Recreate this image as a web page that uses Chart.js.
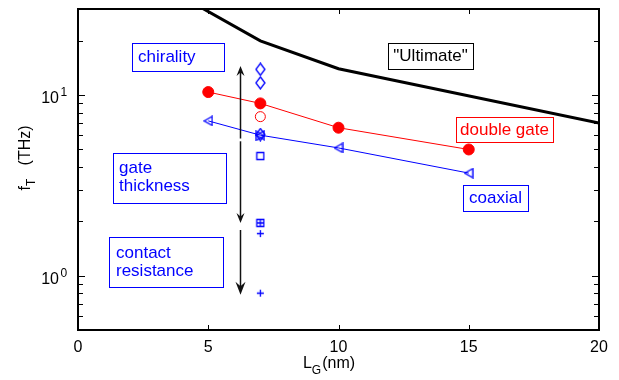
<!DOCTYPE html>
<html>
<head>
<meta charset="utf-8">
<script src="https://cdn.jsdelivr.net/npm/chart.js@4"></script>
<style>
  html, body { margin: 0; padding: 0; background: #fff; }
  #wrap { width: 619px; height: 380px; position: relative; }
</style>
</head>
<body>
<div id="wrap"><canvas id="fT"></canvas></div>
<script>
// axes
const xTicks = [0, 5, 10, 15, 20];
const xTickLabels = ['0', '5', '10', '15', '20'];
const yMajor = [1, 10];
const yMajorBase = ['10', '10'];
const yMajorExp = ['0', '1'];
const yMinor = [0.5, 0.6, 0.7, 0.8, 0.9, 2, 3, 4, 5, 6, 7, 8, 9, 20, 30];

// "Ultimate" limit
const ultX = [4, 7, 10, 20];
const ultY = [35, 20, 14, 7];

// double gate
const dgX = [5, 7, 10, 15];
const dgY = [10.4, 9.0, 6.6, 5.0];

// coaxial
const coX = [5, 7, 10, 15];
const coY = [7.2, 6.0, 5.1, 3.7];

// variations at L = 7 nm
const varX = 7;
const diamondY = [13.9, 11.7, 6.05];
const openCircleY = [7.6];
const rightTriY = [5.95];
const squareY = [4.6];
const boxPlusY = [1.96];
const plusY = [1.71, 0.80];

// arrows (x, from, to)
const arrowX = 6.22;
const arrowFrom = [5.75, 5.55, 1.79];
const arrowTo = [14.5, 1.96, 0.785];

const FONT = '"Liberation Sans", Arial, Helvetica, sans-serif';
const BLUE = '#0000ff';
const RED = '#ff0000';

// little canvases used as point styles
function marker(kind, w, h, color) {
  const c = document.createElement('canvas');
  c.width = w + 2; c.height = h + 2;
  const g = c.getContext('2d');
  g.strokeStyle = color; g.lineWidth = 1.3;
  g.translate(1, 1);
  g.beginPath();
  if (kind === 'ltri') { g.moveTo(0, h / 2); g.lineTo(w, 0); g.lineTo(w, h); g.closePath(); }
  if (kind === 'rtri') { g.moveTo(w, h / 2); g.lineTo(0, 0); g.lineTo(0, h); g.closePath(); }
  if (kind === 'diamond') { g.moveTo(w / 2, 0); g.lineTo(w, h / 2); g.lineTo(w / 2, h); g.lineTo(0, h / 2); g.closePath(); }
  if (kind === 'square') { g.rect(0.5, 0.5, w - 1, h - 1); }
  if (kind === 'plus') { g.moveTo(w / 2, 0); g.lineTo(w / 2, h); g.moveTo(0, h / 2); g.lineTo(w, h / 2); }
  if (kind === 'boxplus') { g.rect(0.5, 0.5, w - 1, h - 1); g.moveTo(w / 2, 0); g.lineTo(w / 2, h); g.moveTo(0, h / 2); g.lineTo(w, h / 2); }
  g.stroke();
  return c;
}

const at7 = ys => ys.map(y => ({ x: varX, y: y }));
const pts = (xs, ys) => xs.map((x, i) => ({ x: x, y: ys[i] }));

function scatterSet(data, style, color) {
  return { data: data, showLine: false, pointStyle: style, pointRadius: 5,
           borderColor: color, backgroundColor: 'rgba(0,0,0,0)', borderWidth: 1 };
}

// text boxes
const notes = [
  { lines: ['chirality'], color: BLUE, box: [132, 43, 92, 28], x: 138, y: [57], align: 'left' },
  { lines: ['gate', 'thickness'], color: BLUE, box: [113, 153, 113, 50], x: 119, y: [168, 186], align: 'left' },
  { lines: ['contact', 'resistance'], color: BLUE, box: [109, 237, 114, 50], x: 116, y: [253, 271], align: 'left' },
  { lines: ['"Ultimate"'], color: '#000', box: [388, 43, 85, 26], x: 430.5, y: [56.5], align: 'center' },
  { lines: ['double gate'], color: RED, box: [456, 117, 97, 25], x: 504.5, y: [130], align: 'center' },
  { lines: ['coaxial'], color: BLUE, box: [463, 185, 65, 26], x: 495.5, y: [198.5], align: 'center' }
];

function arrowHead(g, x, y, dir, len, half) {
  g.beginPath();
  g.moveTo(x, y);
  g.lineTo(x - half, y - dir * len);
  g.lineTo(x, y - dir * len * 0.65);
  g.lineTo(x + half, y - dir * len);
  g.closePath();
  g.fill();
}

const decor = {
  id: 'decor',
  afterDatasetsDraw(chart) {
    const g = chart.ctx;
    const a = chart.chartArea;
    const sx = chart.scales.x, sy = chart.scales.y;
    g.save();

    // arrows
    g.strokeStyle = '#111'; g.fillStyle = '#111'; g.lineWidth = 1.5;
    const ax = Math.round(sx.getPixelForValue(arrowX)) + 0.5;
    arrowFrom.forEach((f, i) => {
      const y0 = sy.getPixelForValue(f), y1 = sy.getPixelForValue(arrowTo[i]);
      const dir = y1 > y0 ? 1 : -1;
      const len = i === 2 ? 13 : 10, half = i === 2 ? 5 : 4;
      g.beginPath(); g.moveTo(ax, y0); g.lineTo(ax, y1 - dir * len * 0.6); g.stroke();
      arrowHead(g, ax, y1, dir, len, half);
    });

    // frame
    g.strokeStyle = '#000'; g.lineWidth = 2;
    g.strokeRect(a.left, a.top, a.right - a.left, a.bottom - a.top);

    // inward ticks
    g.lineWidth = 1;
    g.beginPath();
    xTicks.forEach(v => {
      const px = Math.round(sx.getPixelForValue(v)) + 0.5;
      g.moveTo(px, a.bottom); g.lineTo(px, a.bottom - 5);
      g.moveTo(px, a.top); g.lineTo(px, a.top + 5);
    });
    yMinor.concat(yMajor).forEach(v => {
      const py = Math.round(sy.getPixelForValue(v)) + 0.5;
      const len = yMajor.includes(v) ? 7 : 5;
      g.moveTo(a.left, py); g.lineTo(a.left + len, py);
      g.moveTo(a.right, py); g.lineTo(a.right - len, py);
    });
    g.stroke();

    // tick labels
    g.fillStyle = '#000';
    g.font = '16px ' + FONT;
    g.textAlign = 'center'; g.textBaseline = 'alphabetic';
    xTicks.forEach((v, i) => g.fillText(xTickLabels[i], sx.getPixelForValue(v), 352));
    yMajor.forEach((v, i) => {
      const py = sy.getPixelForValue(v);
      g.font = '16px ' + FONT; g.textAlign = 'right';
      g.fillText(yMajorBase[i], 59, py + 8);
      g.font = '12px ' + FONT; g.textAlign = 'left';
      g.fillText(yMajorExp[i], 60.5, py + 1);
    });

    // axis titles
    g.textAlign = 'left';
    const f16 = '16px ' + FONT, f12 = '12px ' + FONT;
    g.font = f16; const wL = g.measureText('L').width, wNm = g.measureText('(nm)').width;
    g.font = f12; const wG = g.measureText('G').width;
    let tx = 329 - (wL + wG + 1 + wNm) / 2;
    g.font = f16; g.fillText('L', tx, 368); tx += wL;
    g.font = f12; g.fillText('G', tx, 374); tx += wG + 1;
    g.font = f16; g.fillText('(nm)', tx, 368);

    g.save();
    g.translate(30, 158);
    g.rotate(-Math.PI / 2);
    g.font = f16; const wf = g.measureText('f').width, wT2 = g.measureText('   (THz)').width;
    g.font = f12; const wT = g.measureText('T').width;
    let ty = -(wf + wT + wT2) / 2;
    g.font = f16; g.fillText('f', ty, 0); ty += wf;
    g.font = f12; g.fillText('T', ty, 5); ty += wT;
    g.font = f16; g.fillText('   (THz)', ty, 0);
    g.restore();

    // text boxes
    g.font = '17px ' + FONT;
    g.textBaseline = 'middle';
    notes.forEach(n => {
      g.strokeStyle = n.color; g.lineWidth = 1;
      g.strokeRect(n.box[0] + 0.5, n.box[1] + 0.5, n.box[2], n.box[3]);
      g.fillStyle = n.color; g.textAlign = n.align;
      n.lines.forEach((t, i) => g.fillText(t, n.x, n.y[i]));
    });

    g.restore();
  }
};

new Chart(document.getElementById('fT'), {
  type: 'scatter',
  data: {
    datasets: [
      { data: pts(ultX, ultY), showLine: true, borderColor: '#000', borderWidth: 3,
        pointRadius: 0, fill: false, tension: 0 },
      { data: pts(dgX, dgY), showLine: true, borderColor: RED, borderWidth: 1,
        pointRadius: 5.5, pointStyle: 'circle', backgroundColor: RED, pointBorderColor: RED },
      { data: pts(coX, coY), showLine: true, borderColor: BLUE, borderWidth: 1,
        pointRadius: 5, pointStyle: marker('ltri', 8, 9, BLUE), backgroundColor: 'rgba(0,0,0,0)' },
      scatterSet(at7(diamondY), marker('diamond', 9, 12, BLUE), BLUE),
      scatterSet(at7(rightTriY), marker('rtri', 8, 9, BLUE), BLUE),
      { data: at7(openCircleY), showLine: false, pointStyle: 'circle', pointRadius: 5,
        borderColor: RED, backgroundColor: 'rgba(0,0,0,0)', borderWidth: 1 },
      scatterSet(at7(squareY), marker('square', 8, 8, BLUE), BLUE),
      scatterSet(at7(boxPlusY), marker('boxplus', 8, 8, BLUE), BLUE),
      scatterSet(at7(plusY), marker('plus', 7, 7, BLUE), BLUE)
    ]
  },
  options: {
    responsive: true,
    maintainAspectRatio: false,
    animation: false,
    layout: { padding: { left: 78, top: 9, right: 20, bottom: 50 } },
    plugins: { legend: { display: false }, tooltip: { enabled: false } },
    scales: {
      x: { type: 'linear', min: 0, max: 20, display: false },
      y: { type: 'logarithmic', min: 0.5, max: 30, display: false }
    }
  },
  plugins: [decor]
});
</script>
</body>
</html>
